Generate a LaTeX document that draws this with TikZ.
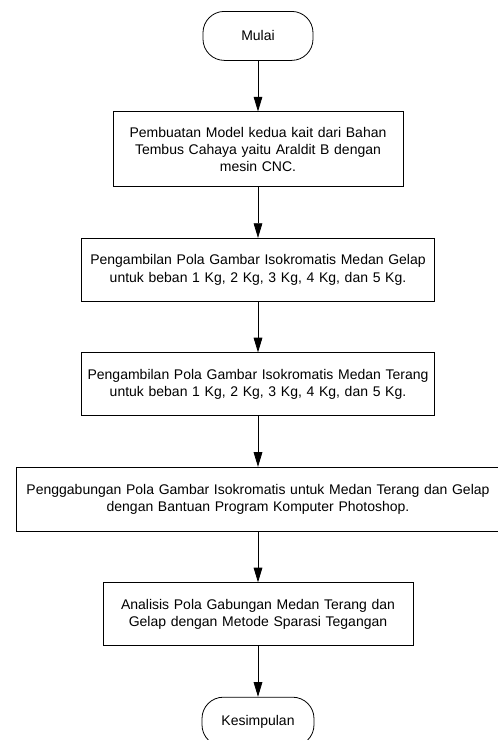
\documentclass[tikz,border=0pt]{standalone}
\usepackage{fontspec}
\setmainfont{Liberation Sans}
\usetikzlibrary{positioning,arrows.meta}

\begin{document}
\begin{tikzpicture}[
    node distance=38pt,
    font=\fontsize{10.5}{13}\selectfont,
    proc/.style={rectangle, draw, line width=0.6pt, inner sep=0pt, align=center, minimum height=47.25pt},
    term/.style={rectangle, draw, line width=0.6pt, rounded corners=16pt, minimum width=82.5pt, minimum height=36.75pt},
    arrow/.style={line width=0.6pt, -{Triangle[length=11pt,width=6.5pt]}}
]

% Picture frame
\useasboundingbox (-193.5pt,8.25pt) rectangle ++(373.5pt,-555pt);
\clip (-193.5pt,8.25pt) rectangle ++(373.5pt,-555pt);

% Flow steps
\node[term, anchor=north] (mulai) at (0,0) {Mulai};
\node[proc, below=of mulai, text width=217.5pt, minimum height=56.25pt] (pembuatan) {Pembuatan Model kedua kait dari Bahan\\Tembus Cahaya yaitu Araldit B dengan\\mesin CNC.};
\node[proc, below=of pembuatan, text width=264.75pt] (gelap) {Pengambilan Pola Gambar Isokromatis Medan Gelap\\untuk beban 1 Kg, 2 Kg, 3 Kg, 4 Kg, dan 5 Kg.};
\node[proc, below=of gelap, text width=264.75pt] (terang) {Pengambilan Pola Gambar Isokromatis Medan Terang\\untuk beban 1 Kg, 2 Kg, 3 Kg, 4 Kg, dan 5 Kg.};
\node[proc, below=of terang, text width=363pt, minimum height=48pt] (gabung) {Penggabungan Pola Gambar Isokromatis untuk Medan Terang dan Gelap\\dengan Bantuan Program Komputer Photoshop.};
\node[proc, below=of gabung, text width=232.5pt] (analisis) {Analisis Pola Gabungan Medan Terang dan\\Gelap dengan Metode Sparasi Tegangan};
\node[term, below=of analisis, minimum width=84pt] (kesimpulan) {Kesimpulan};

% Connectors
\draw[arrow] (mulai) -- (pembuatan);
\draw[arrow] (pembuatan) -- (gelap);
\draw[arrow] (gelap) -- (terang);
\draw[arrow] (terang) -- (gabung);
\draw[arrow] (gabung) -- (analisis);
\draw[arrow] (analisis) -- (kesimpulan);

\end{tikzpicture}
\end{document}
